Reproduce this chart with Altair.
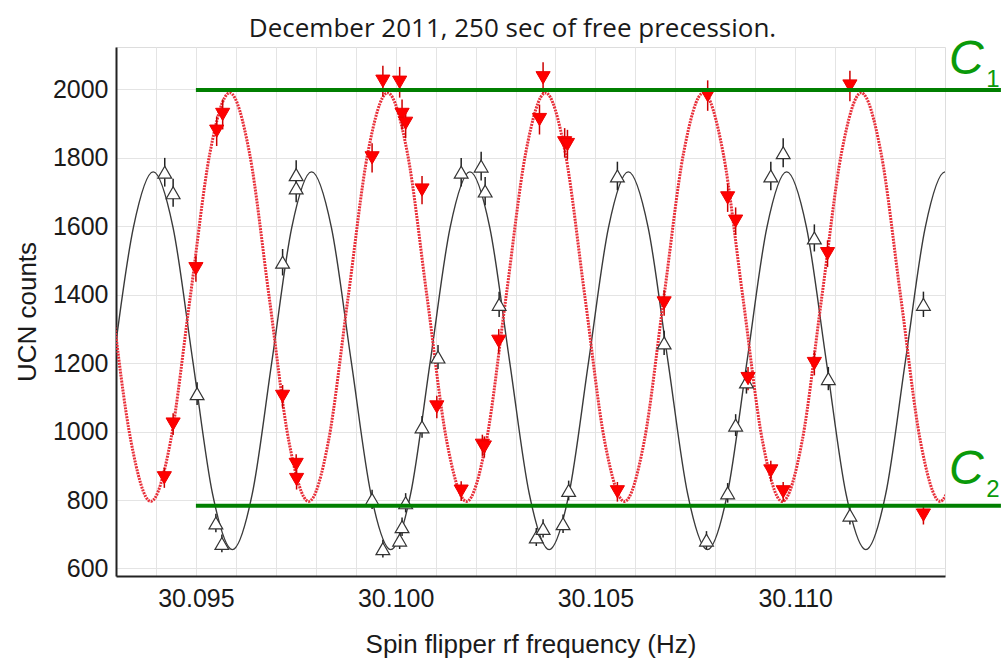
import altair as alt
import pandas as pd

# ---- fitted curves, points (1/8-period spacing) ----
black_fit_x = [30.092940, 30.093436, 30.093931, 30.094427, 30.094922, 30.095418, 30.095913, 30.096409,
               30.096904, 30.097400, 30.097895, 30.098391, 30.098886, 30.099382, 30.099877, 30.100373,
               30.100868, 30.101364, 30.101859, 30.102355, 30.102850, 30.103346, 30.103841, 30.104337,
               30.104832, 30.105328, 30.105823, 30.106319, 30.106814, 30.107310, 30.107805, 30.108301,
               30.108796, 30.109292, 30.109787, 30.110283, 30.110778, 30.111274, 30.111769, 30.112265,
               30.112760, 30.113256, 30.113751, 30.114247]
black_fit_y = [1207, 1597, 1759, 1597, 1207, 817, 655, 817,
               1207, 1597, 1759, 1597, 1207, 817, 655, 817,
               1207, 1597, 1759, 1597, 1207, 817, 655, 817,
               1207, 1597, 1759, 1597, 1207, 817, 655, 817,
               1207, 1597, 1759, 1597, 1207, 817, 655, 817,
               1207, 1597, 1759, 1597]

red_fit_x = [30.092882, 30.093376, 30.093870, 30.094364, 30.094858, 30.095352, 30.095846, 30.096340,
             30.096834, 30.097328, 30.097822, 30.098316, 30.098810, 30.099304, 30.099798, 30.100292,
             30.100786, 30.101280, 30.101774, 30.102268, 30.102762, 30.103256, 30.103750, 30.104244,
             30.104738, 30.105232, 30.105726, 30.106220, 30.106714, 30.107208, 30.107702, 30.108196,
             30.108690, 30.109184, 30.109678, 30.110172, 30.110666, 30.111160, 30.111654, 30.112148,
             30.112642, 30.113136, 30.113630, 30.114124]
red_fit_y = [1393, 971, 796, 971, 1393, 1815, 1990, 1815,
             1393, 971, 796, 971, 1393, 1815, 1990, 1815,
             1393, 971, 796, 971, 1393, 1815, 1990, 1815,
             1393, 971, 796, 971, 1393, 1815, 1990, 1815,
             1393, 971, 796, 971, 1393, 1815, 1990, 1815,
             1393, 971, 796, 971]

# ---- measured points ----
black_x = [30.09422, 30.09443, 30.09503, 30.09550, 30.09565, 30.09717, 30.09751, 30.09751, 30.09941,
           30.09968, 30.10010, 30.10016, 30.10025, 30.10066, 30.10106, 30.10164, 30.10214, 30.10224,
           30.10259, 30.10352, 30.10369, 30.10419, 30.10433, 30.10555, 30.10672, 30.10778, 30.10831,
           30.10851, 30.10878, 30.10939, 30.10970, 30.11048, 30.11083, 30.11137, 30.11321]
black_y = [1758, 1698, 1111, 733, 673, 1495, 1751, 1712, 802,
           658, 683, 722, 792, 1014, 1218, 1758, 1776, 1703,
           1372, 692, 717, 731, 828, 1747, 1259, 683, 821,
           1019, 1145, 1747, 1815, 1566, 1155, 756, 1372]

red_x = [30.09421, 30.09443, 30.09500, 30.09552, 30.09567, 30.09717, 30.09751, 30.09752, 30.09941,
         30.09968, 30.10010, 30.10016, 30.10025, 30.10066, 30.10103, 30.10164, 30.10217, 30.10222,
         30.10258, 30.10360, 30.10369, 30.10423, 30.10430, 30.10555, 30.10672, 30.10781, 30.10831,
         30.10851, 30.10882, 30.10939, 30.10970, 30.11048, 30.11081, 30.11137, 30.11321]
red_y = [865, 1022, 1476, 1878, 1927, 1103, 904, 860, 1800,
         2024, 2021, 1927, 1901, 1706, 1072, 826, 960, 955,
         1264, 1912, 2034, 1844, 1839, 824, 1376, 1982, 1683,
         1615, 1155, 885, 824, 1199, 1520, 2010, 756]

# ---- C1 / C2 levels ----
c_names = ["C", "C"]
c_subs = ["1", "2"]
c_levels = [1998, 783]
c_start = [30.095, 30.095]
c_end = [30.11515, 30.11515]
c_label_x = [30.11385, 30.11385]
c_label_y = [2046, 846]
c_sub_x = [30.11478, 30.11478]
c_sub_y = [2007, 808]

x_ticks = [30.093, 30.094, 30.095, 30.096, 30.097, 30.098, 30.099, 30.100, 30.101, 30.102,
           30.103, 30.104, 30.105, 30.106, 30.107, 30.108, 30.109, 30.110, 30.111, 30.112, 30.113]
y_ticks = [600, 800, 1000, 1200, 1400, 1600, 1800, 2000]

black_fit = pd.DataFrame({"f": black_fit_x, "n": black_fit_y})
red_fit = pd.DataFrame({"f": red_fit_x, "n": red_fit_y})
black_pts = pd.DataFrame({"f": black_x, "n": black_y})
red_pts = pd.DataFrame({"f": red_x, "n": red_y})
levels = pd.DataFrame({"x1": c_start, "x2": c_end, "y": c_levels, "name": c_names, "sub": c_subs,
                       "lx": c_label_x, "ly": c_label_y, "sx": c_sub_x, "sy": c_sub_y})

xscale = alt.Scale(domain=[30.093, 30.11375], nice=False, zero=False)
yscale = alt.Scale(domain=[578, 2124], nice=False, zero=False)

FONT = "Liberation Sans"
xaxis = alt.Axis(values=x_ticks, title="Spin flipper rf frequency (Hz)",
                 labelExpr="round(datum.value*1000) % 5 == 0 ? format(datum.value, '.3f') : ''",
                 labelOverlap=False, ticks=False, labelFontSize=25, labelFont=FONT,
                 labelColor="#1a1a1a", labelPadding=10, titleFontSize=26, titleFont=FONT,
                 titleFontWeight="normal", titleColor="#1a1a1a", titlePadding=20,
                 gridColor="#e4e4e4", gridWidth=1, domainColor="#222222", domainWidth=2)
yaxis = alt.Axis(values=y_ticks, title="UCN counts", format="d", ticks=False, labelFontSize=25,
                 labelFont=FONT, labelColor="#1a1a1a", labelPadding=8, titleFontSize=26, titleFont=FONT,
                 titleFontWeight="normal", titleColor="#1a1a1a", titlePadding=12,
                 gridColor="#e4e4e4", gridWidth=1, domainColor="#222222", domainWidth=2)

base_x = alt.X("f:Q", scale=xscale, axis=xaxis)
base_y = alt.Y("n:Q", scale=yscale, axis=yaxis)

black_line = alt.Chart(black_fit).mark_line(color="#3a3a3a", strokeWidth=1.4, interpolate="monotone",
                                            clip=True).encode(x=base_x, y=base_y)
red_line = alt.Chart(red_fit).mark_line(color="#e8303a", strokeWidth=3, strokeDash=[2, 1],
                                        interpolate="monotone", clip=True).encode(
    x=alt.X("f:Q", scale=xscale), y=alt.Y("n:Q", scale=yscale))

def errbars(df, color):
    return alt.Chart(df).transform_calculate(
        lo="datum.n - sqrt(datum.n)", hi="datum.n + sqrt(datum.n)"
    ).mark_rule(color=color, strokeWidth=1.5).encode(
        x=alt.X("f:Q", scale=xscale), y=alt.Y("lo:Q", scale=yscale), y2="hi:Q")

black_err = errbars(black_pts, "#222222")
red_err = errbars(red_pts, "#cc0000")

black_mk = alt.Chart(black_pts).mark_point(shape="triangle-up", size=190, filled=True, fill="white",
                                            stroke="#333333", strokeWidth=1.2, opacity=1).encode(
    x=alt.X("f:Q", scale=xscale), y=alt.Y("n:Q", scale=yscale))
red_mk = alt.Chart(red_pts).mark_point(shape="triangle-down", size=200, filled=True, fill="#ff0000",
                                        stroke="#ee0000", strokeWidth=1, opacity=1).encode(
    x=alt.X("f:Q", scale=xscale), y=alt.Y("n:Q", scale=yscale))

green = alt.Chart(levels).mark_rule(color="#007f00", strokeWidth=4, clip=False).encode(
    x=alt.X("x1:Q", scale=xscale), x2="x2:Q", y=alt.Y("y:Q", scale=yscale))
c_text = alt.Chart(levels).mark_text(color="#0a9a0a", fontSize=48, font=FONT, fontStyle="italic",
                                     align="left", baseline="alphabetic", clip=False).encode(
    x=alt.X("lx:Q", scale=xscale), y=alt.Y("ly:Q", scale=yscale), text="name:N")
c_sub = alt.Chart(levels).mark_text(color="#0a9a0a", fontSize=24, font=FONT,
                                    align="left", baseline="alphabetic", clip=False).encode(
    x=alt.X("sx:Q", scale=xscale), y=alt.Y("sy:Q", scale=yscale), text="sub:N")

chart = alt.layer(black_line, red_line, black_err, red_err, black_mk, red_mk, green, c_text, c_sub).properties(
    width=829, height=529,
    padding={"left": 116, "top": 47, "right": 58, "bottom": 86},
    autosize=alt.AutoSizeParams(type="none"),
    title=alt.TitleParams("December 2011, 250 sec of free precession.", font="Open Sans", fontSize=26,
                          fontWeight="normal", color="#1a1a1a", anchor="middle", offset=8, dx=-18, dy=14),
).configure_view(stroke="#777777", strokeWidth=1.5).configure(background="white")

chart.save("out.html", embed_options={"renderer": "svg", "actions": False})
